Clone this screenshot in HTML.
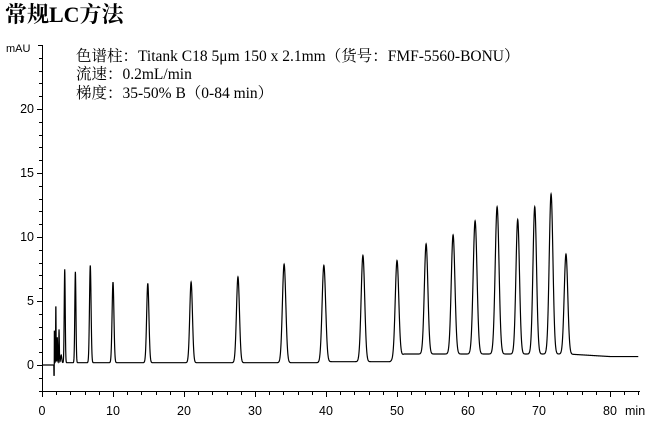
<!DOCTYPE html>
<html><head><meta charset="utf-8"><style>
body{margin:0;background:#fff;width:646px;height:423px;overflow:hidden}
svg text{font-family:"Liberation Sans",sans-serif;font-size:12.5px;fill:#000}
.cn{font-family:"Liberation Serif","Noto Serif CJK SC",serif;font-size:15.5px}
</style></head><body>
<svg id="s" width="646" height="423" xmlns="http://www.w3.org/2000/svg">
<text x="5" y="22" style="font-family:'Liberation Serif','Noto Serif CJK SC',serif;font-size:22px;font-weight:bold">常规LC方法</text>
<text x="6" y="52" style="font-size:11px">mAU</text>
<text class="cn" x="76" y="61">色谱柱：Titank C18 5μm 150 x 2.1mm（货号：FMF-5560-BONU）</text>
<text class="cn" x="76" y="79">流速：0.2mL/min</text>
<text class="cn" x="76" y="98">梯度：35-50% B（0-84 min）</text>
<g id="ax" stroke="#000" stroke-width="1" fill="none"></g>
<path id="tr" stroke="#000" stroke-width="1.2" fill="none"/>
</svg>
<script>
var X=function(t){return 42+t*7.1},Y=function(v){return 365-v*12.8};
var ax=document.getElementById('ax'),s=document.getElementById('s'),d='';
d+='M42.5,45V391.5M38,45.5H42.5M42,391.5H640';
for(var v=-2;v<=25;v++){var y=Math.round(Y(v))+.5;if(y<46)continue;d+='M'+(v%5==0?37:39)+','+y+'H42';}
for(var t=0;t<=84;t+=2){var x=Math.round(X(t))+.5;d+='M'+x+',391V'+(t%10==0?397:395);}
var p=document.createElementNS('http://www.w3.org/2000/svg','path');p.setAttribute('d',d);ax.appendChild(p);
function lab(x,y,txt,a){var e=document.createElementNS('http://www.w3.org/2000/svg','text');e.setAttribute('x',x);e.setAttribute('y',y);e.setAttribute('text-anchor',a);e.textContent=txt;s.appendChild(e);}
[0,5,10,15,20].forEach(function(v){lab(34,Y(v)+4,v,'end')});
for(var t=0;t<=80;t+=10)lab(X(t),415,t,'middle');
lab(625,415,'min','start');
var pk=[[1.75,2.6,.03],[1.95,4.6,.03],[2.15,2.0,.04],[2.4,2.6,.04],[2.7,0.6,.08],[3.2,7.3,.07],[4.7,7.1,.08],[6.8,7.6,.11],[10,6.3,.13],[14.9,6.2,.16],[21,6.3,.19],[27.6,6.7,.21],[34.1,7.7,.24],[39.7,7.6,.25],[45.2,8.3,.25],[50,7.6,.25],[54.1,8.6,.25],[57.9,9.3,.26],[61,10.4,.27],[64.1,11.5,.27],[67,10.5,.25],[69.4,11.5,.25],[71.7,12.5,.26],[73.8,7.8,.25]];
function base(t){if(t<1.7)return 0;if(t<40)return .18;if(t<49)return .26;if(t<51)return .26+(t-49)*.3;if(t<74)return .86;return .86-Math.min(1,(t-74)/6)*.2;}
var q='';for(var t=0;t<=84;t+=0.02){var v=base(t);pk.forEach(function(k){var z=(t-k[0])/k[2];if(Math.abs(z)<6)v+=k[1]*Math.exp(-z*z/2)});if(Math.abs(t-1.7)<.03)v=-.8;q+=(q?'L':'M')+X(t).toFixed(2)+','+Y(v).toFixed(2);}
document.getElementById('tr').setAttribute('d',q);
</script>
</body></html>
